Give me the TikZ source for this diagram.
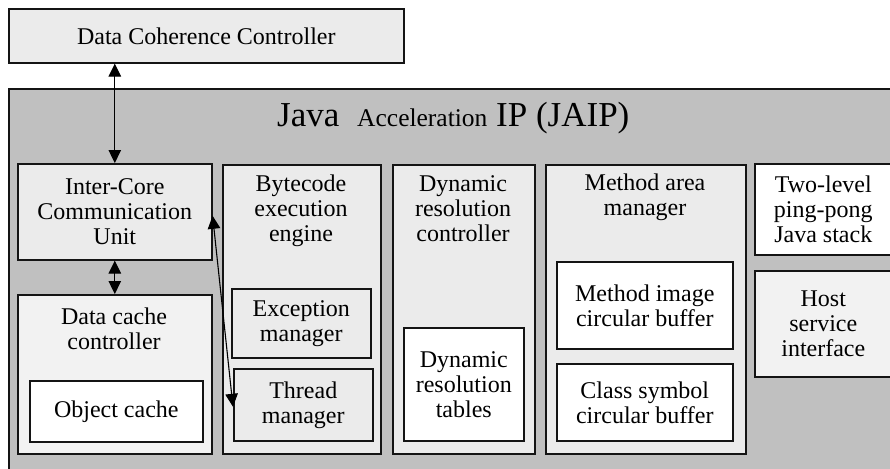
\documentclass[tikz,border=0pt]{standalone}
\usepackage{fontspec}
\setmainfont{Liberation Serif}
\usetikzlibrary{arrows.meta}
\definecolor{outerg}{HTML}{C0C0C0}
\definecolor{midg}{HTML}{EBEBEB}
\definecolor{lightg}{HTML}{F2F2F2}
\definecolor{edge}{HTML}{141414}
\tikzset{
  blk/.style={draw=edge, line width=1.6pt, rectangle, anchor=north west, inner sep=0pt, align=center,
    font=\fontsize{24}{25}\selectfont},
  ttl/.style={anchor=base, align=center, inner sep=0pt, font=\fontsize{24}{25}\selectfont},
  arr/.style={line width=1.1pt, draw=black, {Triangle[width=12.5pt,length=13pt]}-{Triangle[width=12.5pt,length=13pt]}},
}
\begin{document}
\begin{tikzpicture}[x=1pt,y=-1pt]
\useasboundingbox (0,0) rectangle (890,468);
\clip (0,0) rectangle (890,468);
% top controller
\node[blk, fill=midg, minimum width=395pt, minimum height=54pt] (dcc) at (8,8) {Data Coherence Controller};
% outer JAIP container
\node[blk, fill=outerg, minimum width=900pt, minimum height=400pt] (jaip) at (8,88) {};
\node[anchor=base west, inner sep=0pt, font=\fontsize{35}{40}\selectfont] (tjava) at (277,126) {Java};
\node[anchor=base west, inner sep=0pt, font=\fontsize{25.5}{30}\selectfont] (tacc) at (357,126) {Acceleration};
\node[anchor=base west, inner sep=0pt, font=\fontsize{35}{40}\selectfont] (tip) at (496,126) {IP (JAIP)};
% column 1
\node[blk, fill=midg, minimum width=194pt, minimum height=96pt] (iccu) at (17,163) {Inter-Core\\Communication\\Unit};
\node[blk, fill=lightg, minimum width=194pt, minimum height=159pt] (dcache) at (17,294) {};
\node[ttl] (dcacheT) at (114,349) {Data cache\\controller};
\node[blk, fill=white, minimum width=173pt, minimum height=61pt] (objc) at (29,380) {Object cache};
% column 2
\node[blk, fill=midg, minimum width=158pt, minimum height=289pt] (bee) at (222,164) {};
\node[ttl] (beeT) at (301,241) {Bytecode\\execution\\engine};
\node[blk, fill=midg, minimum width=139pt, minimum height=69pt] (exc) at (231,288) {Exception\\manager};
\node[blk, fill=midg, minimum width=139pt, minimum height=72pt] (thr) at (233,368) {Thread\\manager};
% column 3
\node[blk, fill=midg, minimum width=142pt, minimum height=289pt] (drc) at (392,164) {};
\node[ttl] (drcT) at (463,241) {Dynamic\\resolution\\controller};
\node[blk, fill=white, minimum width=120pt, minimum height=113pt] (drt) at (403,327) {Dynamic\\resolution\\tables};
% column 4
\node[blk, fill=midg, minimum width=200pt, minimum height=289pt] (mam) at (545,164) {};
\node[ttl] (mamT) at (645,215) {Method area\\manager};
\node[blk, fill=white, minimum width=176pt, minimum height=87pt] (mic) at (556,261) {Method image\\circular buffer};
\node[blk, fill=white, minimum width=176pt, minimum height=77pt] (csc) at (556,363) {Class symbol\\circular buffer};
% column 5
\node[blk, fill=white, minimum width=137pt, minimum height=91pt] (two) at (754,163) {Two-level\\ping-pong\\Java stack};
\node[blk, fill=lightg, minimum width=137pt, minimum height=106pt] (host) at (754,270) {Host\\service\\interface};
% connectors
\draw[arr] (iccu.north |- dcc.south) -- (iccu.north);
\draw[arr] (iccu.south) -- (dcache.north);
\draw[arr] ([yshift=-4pt]iccu.east) -- ([yshift=-2pt]thr.west);
\end{tikzpicture}
\end{document}
